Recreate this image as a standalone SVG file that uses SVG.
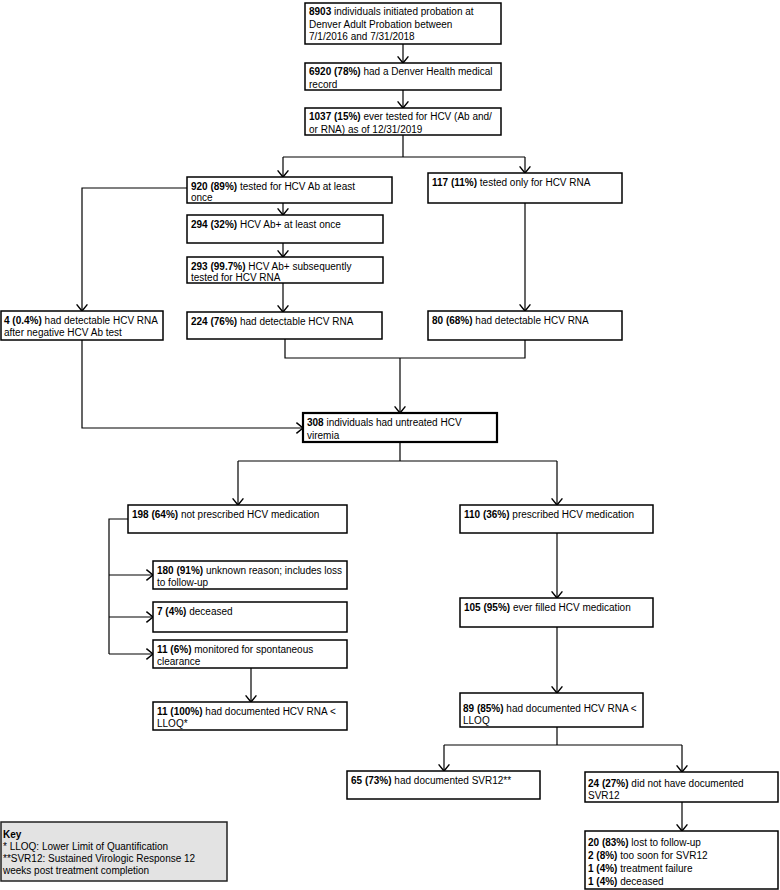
<svg xmlns="http://www.w3.org/2000/svg" width="780" height="890" viewBox="0 0 780 890">
<style>
.box{fill:#fff;stroke:#000;stroke-width:1.5}
.thick{stroke-width:2.2}
.key{fill:#e3e3e3;stroke:#222;stroke-width:1.5}
text{font-family:"Liberation Sans",Arial,sans-serif;font-size:10px;fill:#000}
.b{font-weight:bold}
.c{fill:none;stroke:#000;stroke-width:1.2}
</style>
<defs>
<marker id="ah" markerUnits="userSpaceOnUse" markerWidth="12" markerHeight="12" refX="6" refY="5" orient="auto" viewBox="0 0 7 10">
<path d="M0.5,0.5 L6,5 L0.5,9.5" fill="none" stroke="#000" stroke-width="1.2"/>
</marker>
</defs>
<rect width="780" height="890" fill="#fff"/>
<g id="connectors">
<path class="c" d="M403,44 V63" marker-end="url(#ah)"/>
<path class="c" d="M403,90 V108" marker-end="url(#ah)"/>
<path class="c" d="M403,135 V157 M283,157 H525"/>
<path class="c" d="M283,157 V177" marker-end="url(#ah)"/>
<path class="c" d="M525,157 V173" marker-end="url(#ah)"/>
<path class="c" d="M187,188 H82 V311" marker-end="url(#ah)"/>
<path class="c" d="M283,203 V215" marker-end="url(#ah)"/>
<path class="c" d="M283,243 V257" marker-end="url(#ah)"/>
<path class="c" d="M283,283 V312" marker-end="url(#ah)"/>
<path class="c" d="M525,203 V311" marker-end="url(#ah)"/>
<path class="c" d="M285,339 V358 H525 V340"/>
<path class="c" d="M400,358 V413" marker-end="url(#ah)"/>
<path class="c" d="M82,340 V428 H303" marker-end="url(#ah)"/>
<path class="c" d="M400,442 V461 M238,461 H557"/>
<path class="c" d="M238,461 V505" marker-end="url(#ah)"/>
<path class="c" d="M557,461 V505" marker-end="url(#ah)"/>
<path class="c" d="M128,519 H109 V654"/>
<path class="c" d="M109,575 H153" marker-end="url(#ah)"/>
<path class="c" d="M109,617 H153" marker-end="url(#ah)"/>
<path class="c" d="M109,654 H153" marker-end="url(#ah)"/>
<path class="c" d="M251,668 V702" marker-end="url(#ah)"/>
<path class="c" d="M557,533 V598" marker-end="url(#ah)"/>
<path class="c" d="M557,627 V693" marker-end="url(#ah)"/>
<path class="c" d="M557,727 V745 M444,745 H682"/>
<path class="c" d="M444,745 V771" marker-end="url(#ah)"/>
<path class="c" d="M682,745 V772" marker-end="url(#ah)"/>
<path class="c" d="M682,802 V831" marker-end="url(#ah)"/>
</g>
<g id="n8903"><rect class="box" x="305" y="3" width="196" height="41"/>
<text x="309" y="15"><tspan class="b">8903</tspan> individuals initiated probation at</text>
<text x="309" y="27.5">Denver Adult Probation between</text>
<text x="309" y="40">7/1/2016 and 7/31/2018</text></g>
<g id="n6920"><rect class="box" x="305" y="63" width="196" height="27"/>
<text x="309" y="75"><tspan class="b">6920 (78%)</tspan> had a Denver Health medical</text>
<text x="309" y="87.5">record</text></g>
<g id="n1037"><rect class="box" x="305" y="108" width="196" height="27"/>
<text x="309" y="120"><tspan class="b">1037 (15%)</tspan> ever tested for HCV (Ab and/</text>
<text x="309" y="132.5">or RNA) as of 12/31/2019</text></g>
<g id="n920"><rect class="box" x="187" y="177" width="205" height="26"/>
<text x="191" y="189.5"><tspan class="b">920 (89%)</tspan> tested for HCV Ab at least</text>
<text x="191" y="201">once</text></g>
<g id="n294"><rect class="box" x="187" y="215" width="196" height="28"/>
<text x="191" y="227.5"><tspan class="b">294 (32%)</tspan> HCV Ab+ at least once</text></g>
<g id="n293"><rect class="box" x="187" y="257" width="196" height="26"/>
<text x="191" y="269.5"><tspan class="b">293 (99.7%)</tspan> HCV Ab+ subsequently</text>
<text x="191" y="281">tested for HCV RNA</text></g>
<g id="n224"><rect class="box" x="187" y="312" width="195" height="27"/>
<text x="191" y="324.5"><tspan class="b">224 (76%)</tspan> had detectable HCV RNA</text></g>
<g id="n117"><rect class="box" x="428" y="173" width="194" height="30"/>
<text x="432" y="185.5"><tspan class="b">117 (11%)</tspan> tested only for HCV RNA</text></g>
<g id="n4"><rect class="box" x="1" y="311" width="162" height="29"/>
<text x="4" y="323.5"><tspan class="b">4 (0.4%)</tspan> had detectable HCV RNA</text>
<text x="4" y="336">after negative HCV Ab test</text></g>
<g id="n80"><rect class="box" x="428" y="311" width="194" height="29"/>
<text x="432" y="323.5"><tspan class="b">80 (68%)</tspan> had detectable HCV RNA</text></g>
<g id="n308"><rect class="box thick" x="303" y="413" width="194" height="29"/>
<text x="307" y="426"><tspan class="b">308</tspan> individuals had untreated HCV</text>
<text x="307" y="438.5">viremia</text></g>
<g id="n198"><rect class="box" x="128" y="505" width="219" height="28"/>
<text x="132" y="517.5"><tspan class="b">198 (64%)</tspan> not prescribed HCV medication</text></g>
<g id="n110"><rect class="box" x="460" y="505" width="193" height="28"/>
<text x="464" y="517.5"><tspan class="b">110 (36%)</tspan> prescribed HCV medication</text></g>
<g id="n180"><rect class="box" x="153" y="561" width="194" height="28"/>
<text x="157" y="573.5"><tspan class="b">180 (91%)</tspan> unknown reason; includes loss</text>
<text x="157" y="586">to follow-up</text></g>
<g id="n7"><rect class="box" x="153" y="602" width="194" height="30"/>
<text x="157" y="614.5"><tspan class="b">7 (4%)</tspan> deceased</text></g>
<g id="n11"><rect class="box" x="153" y="640" width="194" height="28"/>
<text x="157" y="652.5"><tspan class="b">11 (6%)</tspan> monitored for spontaneous</text>
<text x="157" y="665">clearance</text></g>
<g id="n105"><rect class="box" x="460" y="598" width="193" height="29"/>
<text x="464" y="610.5"><tspan class="b">105 (95%)</tspan> ever filled HCV medication</text></g>
<g id="n11b"><rect class="box" x="153" y="702" width="194" height="28"/>
<text x="157" y="714.5"><tspan class="b">11 (100%)</tspan> had documented HCV RNA &lt;</text>
<text x="157" y="727">LLOQ*</text></g>
<g id="n89"><rect class="box" x="460" y="693" width="183" height="34"/>
<text x="463" y="711.5"><tspan class="b">89 (85%)</tspan> had documented HCV RNA &lt;</text>
<text x="463" y="724">LLOQ</text></g>
<g id="n65"><rect class="box" x="347" y="771" width="193" height="28"/>
<text x="351" y="783.5"><tspan class="b">65 (73%)</tspan> had documented SVR12**</text></g>
<g id="n24"><rect class="box" x="585" y="772" width="193" height="30"/>
<text x="588" y="786.5"><tspan class="b">24 (27%)</tspan> did not have documented</text>
<text x="588" y="799">SVR12</text></g>
<g id="n20"><rect class="box" x="585" y="831" width="193" height="58"/>
<text x="588" y="846"><tspan class="b">20 (83%)</tspan> lost to follow-up</text>
<text x="588" y="859"><tspan class="b">2 (8%)</tspan> too soon for SVR12</text>
<text x="588" y="872"><tspan class="b">1 (4%)</tspan> treatment failure</text>
<text x="588" y="885"><tspan class="b">1 (4%)</tspan> deceased</text></g>
<g id="key"><rect class="key" x="1" y="822" width="226" height="59"/>
<text x="3" y="838" class="b">Key</text>
<text x="3" y="850">* LLOQ: Lower Limit of Quantification</text>
<text x="3" y="862">**SVR12: Sustained Virologic Response 12</text>
<text x="3" y="874">weeks post treatment completion</text></g>
</svg>
